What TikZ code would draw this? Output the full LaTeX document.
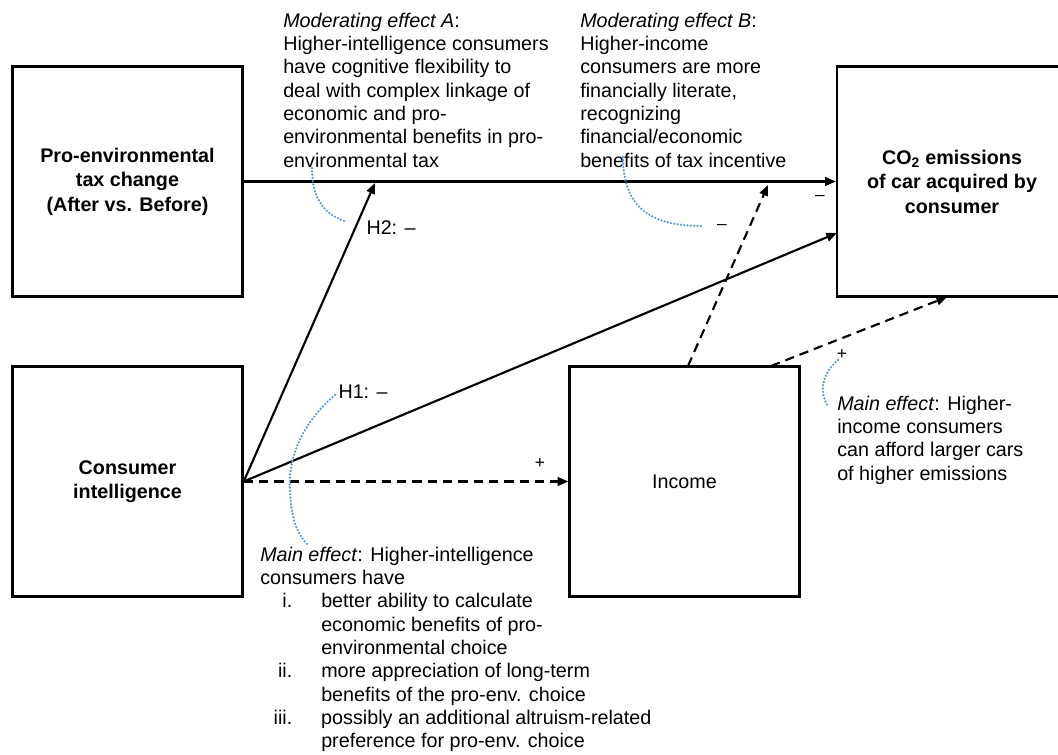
\documentclass[tikz,border=0pt]{standalone}
\usepackage{fontspec}
\setmainfont{Liberation Sans}
\usetikzlibrary{arrows.meta}
\definecolor{dotblue}{RGB}{91,155,213}

\begin{document}
\begin{tikzpicture}[x=0.75pt,y=-0.75pt,
  box/.style={rectangle,draw=black,line width=1.8pt,minimum width=172.5pt,minimum height=172.5pt,
    inner sep=0pt,align=center,font=\fontsize{14.8}{18.4}\selectfont\bfseries},
  note/.style={anchor=north west,inner sep=0pt,align=left,font=\fontsize{14.8}{17.5}\selectfont},
  hyp/.style={inner sep=0pt,font=\fontsize{14.8}{17.5}\selectfont},
  sign/.style={inner sep=0pt,font=\fontsize{13}{15}\selectfont},
  link/.style={line width=1.6pt,-{Triangle[length=8pt,width=6.5pt]}},
  dlink/.style={link,dash pattern=on 7pt off 4.5pt},
  hint/.style={dotblue,line width=1.9pt,line cap=round,dash pattern=on 0pt off 2.5pt}]
  \useasboundingbox (0,0) rectangle (1058,755);

  % Boxes
  \node[box] (tax) at (127.5,181.5) {Pro-environmental\\tax change\\(After vs. Before)};
  \node[box] (intel) at (127.5,481.5) {Consumer\\intelligence};
  \node[box,font=\fontsize{14.8}{18.4}\selectfont] (income) at (684.5,481.5) {Income};
  \node[box] (co2) at (952,181.5) {CO\textsubscript{2} emissions\\of car acquired by\\consumer};

  % Arrow ends
  \coordinate (h2end) at (375,183);
  \coordinate (h1end) at (837,233);
  \coordinate (modbend) at (768,185);
  \coordinate (incA) at (688,366);
  \coordinate (incB) at (771,366);
  \coordinate (co2bot) at (947,297);

  % Arrows
  \draw[link] (tax.east) -- (co2.west);
  \foreach \to in {h2end, h1end}
    \draw[link] (intel.east) -- (\to);
  \draw[dlink] (intel.east) -- (income.west);
  \draw[dlink] (incA) -- (modbend);
  \draw[dlink] (incB) -- (co2bot);

  % Texts
  \node[note] (moda) at (283,12.5) {\textit{Moderating effect A}:\\Higher-intelligence consumers\\have cognitive flexibility to\\deal with complex linkage of\\economic and pro-\\environmental benefits in pro-\\environmental tax};
  \node[note] (modb) at (580,12.5) {\textit{Moderating effect B}:\\Higher-income\\consumers are more\\financially literate,\\recognizing\\financial/economic\\benefits of tax incentive};
  \node[note] (mainb) at (837,395.5) {\textit{Main effect}: Higher-\\income consumers\\can afford larger cars\\of higher emissions};
  \node[note] (maina) at (260,546.5) {\textit{Main effect}: Higher-intelligence\\consumers have\\
    \makebox[24pt][r]{i.}\hspace*{21.75pt}better ability to calculate\\
    \hspace*{45.75pt}economic benefits of pro-\\
    \hspace*{45.75pt}environmental choice\\
    \makebox[24pt][r]{ii.}\hspace*{21.75pt}more appreciation of long-term\\
    \hspace*{45.75pt}benefits of the pro-env. choice\\
    \makebox[24pt][r]{iii.}\hspace*{21.75pt}possibly an additional altruism-related\\
    \hspace*{45.75pt}preference for pro-env. choice};

  % Labels
  \node[hyp] (h2) at (391,228) {H2: --};
  \node[hyp] (h1) at (363,392) {H1: --};
  \node[sign] (s1) at (820,198) {--};
  \node[sign] (s2) at (722,227) {--};
  \node[sign] (s3) at (540,463) {+};
  \node[sign] (s4) at (842,355) {+};

  % Dotted pointers
  \draw[hint] (312,168) .. controls (312,200) and (325,215) .. (347,222);
  \draw[hint] (623,157) .. controls (623,215) and (660,226) .. (703,226);
  \draw[hint] (838,360) .. controls (820,375) and (820,395) .. (828,406);
  \draw[hint] (335,395) .. controls (300,425) and (288,460) .. (290,490)
    .. controls (291,520) and (298,535) .. (308,545);
\end{tikzpicture}
\end{document}
